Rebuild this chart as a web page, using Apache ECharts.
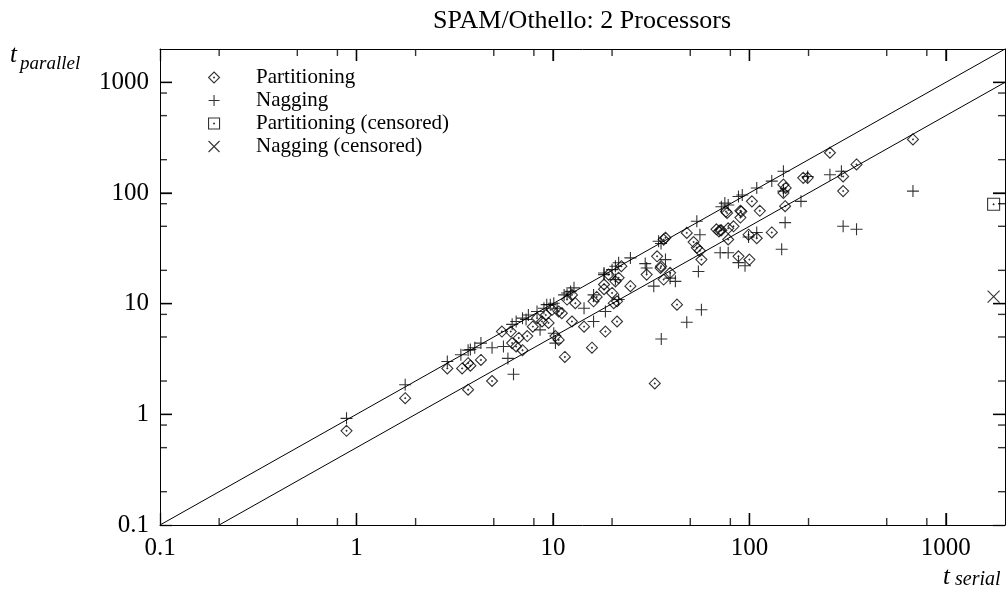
<!DOCTYPE html>
<html>
<head>
<meta charset="utf-8">
<script src="https://cdn.jsdelivr.net/npm/echarts@6/dist/echarts.min.js"></script>
<style>
html,body{margin:0;padding:0;background:#fff;}
#chart{width:1006px;height:589px;}
</style>
</head>
<body>
<div id="chart"></div>
<script>
// ---- data (t_serial, t_parallel) ----
const partitioning = [
  [0.89,0.71],[1.77,1.40],[2.9,2.6],[3.45,2.6],[3.7,2.9],[3.8,2.75],[4.3,3.1],[3.7,1.67],[4.9,2.0],
  [5.5,5.6],[6.1,5.6],[6.2,4.4],[6.5,4.1],[7.0,3.8],[6.7,4.9],[7.4,5.1],[7.9,6.2],[8.3,7.4],[8.8,6.9],
  [9.2,7.9],[9.5,6.7],[9.9,8.8],[10.7,8.5],[10.3,5.1],[10.7,4.7],[11.1,8.2],[11.8,10.9],[12.5,12],
  [13,10.1],[12.5,6.9],[14.4,6.2],[16.1,10.5],[16.7,11.5],[15.8,4.0],[18.2,14.9],[18.5,5.6],[18.2,13.5],
  [19.2,18.3],[20.8,15.9],[21.6,17.1],[22.3,21.8],[20,12.5],[20.4,10.1],[24.8,14.4],[30,18.3],[33.9,26.8],
  [35.3,21],[36.6,16.5],[39.5,19],[36.6,37.9],[37.4,39.4],[48,43.6],[54,32],[42.8,9.8],[11.5,3.3],
  [21.2,6.9],[21.2,10.5],[35.5,21.8],[52,36],[56,30],[57,25],[71,46],[78,38],[88,26.8],[76,68],[91,68],
  [77,66],[103,84],[149,119],[149,100],[152,76],[188,137],[198,137],[68,47],[70,45],[72,46],[78,48],
  [83,50],[90,69],[90,60],[113,69],[99,42],[109,39],[130,44],[100,25],[257,231],[300,141],[351,181],
  [300,104],[680,305],[153,111],[33,1.9]
];
const nagging = [
  [0.89,0.92],[1.77,1.85],[2.9,3.0],[3.4,3.45],[3.7,3.8],[3.8,3.85],[4.0,4.0],[4.3,4.4],[4.9,4.0],
  [5.6,4.1],[5.9,3.2],[6.3,2.3],[6.2,6.5],[6.5,6.9],[7.0,7.4],[7.3,7.2],[7.5,7.9],[8.3,8.5],[8.6,5.8],
  [9.0,9.1],[9.3,9.8],[9.7,9.8],[10.1,10.1],[10.1,5.4],[10.3,4.4],[10.5,9.1],[11.4,12],[11.8,12.5],
  [12.3,12.9],[12.8,13.9],[14.4,9.1],[16.1,6.9],[16.1,12],[18.2,18.3],[18.5,8.5],[18.2,18.9],[20,20.3],
  [20.8,21.8],[21.6,23.4],[20.8,16.5],[21.6,10.9],[24.8,25.9],[30,21],[32.6,14.4],[37.4,25],[39.5,17],
  [42,15.9],[34.5,36.6],[35.5,35],[54,55.6],[57,8.8],[48,6.8],[35.6,4.8],[29.5,23],[56,42],[55,19.5],
  [71,28.8],[78,28.8],[88,23.5],[72,75],[75,81],[78,78],[88,93],[92,96],[109,111],[130,128],[149,157],
  [183,84],[109,44],[99,40],[152,54],[146,31],[95,22],[198,141],[257,146],[294,157],[680,104],[300,50],
  [351,47],[149,104]
];
const partitioningCensored = [[1750,79]];
const naggingCensored = [[1750,11.6]];
// reference lines: t_parallel = t_serial and t_parallel = t_serial / 2
const lineEqual = [[0.1,0.1],[2000,2000]];
const lineHalf = [[0.2,0.1],[2000,1000]];
// axis range and tick values
const axisMin = 0.1, axisMax = 2000;
const majorTicks = [1,10,100,1000];
const minorTicks = [0.2,0.5,0.8,2,5,8,20,50,80,200,500,800];

const FONT = 'Liberation Serif';
const symDiamond = 'path://M5,0L10,5L5,10L0,5Z M5,4.6L5.4,5L5,5.4L4.6,5Z';
const symPlus = 'path://M0,5L10,5M5,0L5,10';
const symSquare = 'path://M0,0L10,0L10,10L0,10Z M5,4.6L5.4,5L5,5.4L4.6,5Z';
const symCross = 'path://M0,0L10,10M10,0L0,10';
const symBar = 'path://M0,0L10,0L10,10L0,10Z';

const fmt = v => {
  const l = Math.log10(v);
  if (Math.abs(l - Math.round(l)) > 1e-6) return '';
  const r = Math.round(l);
  if (r > 3) return '';
  return r < 0 ? '0.1' : String(Math.pow(10, r));
};

function dataAxis(pos, labels) {
  return {
    type:'log', logBase:10, min:axisMin, max:axisMax, gridIndex:0, position:pos,
    axisLine:{show:true, onZero:false, lineStyle:{color:'#000', width:1}},
    axisTick:{show:true, inside:true, length:12, lineStyle:{color:'#000', width:1.3}},
    axisLabel:{show:true, formatter:labels ? fmt : (() => ''), color:'#000', fontFamily:FONT, fontSize:25, margin:11, showMaxLabel:false},
    minorTick:{show:false}, splitLine:{show:false}
  };
}
const symStyle = {color:'rgba(0,0,0,0)', borderColor:'#000', borderWidth:1.1};

// tick marks on all four frame sides, placed through the log axes
function tickSeries(values, len) {
  const base = {type:'scatter', xAxisIndex:0, yAxisIndex:0, symbol:symBar, silent:true, clip:false, z:4,
                itemStyle:{color:'#000'}, emphasis:{disabled:true}, legendHoverLink:false};
  return [
    Object.assign({}, base, {data:values.map(v => [v, axisMin]), symbolSize:[1.4, len], symbolOffset:[0, -len/2]}),
    Object.assign({}, base, {data:values.map(v => [v, axisMax]), symbolSize:[1.4, len], symbolOffset:[0, len/2]}),
    Object.assign({}, base, {data:values.map(v => [axisMin, v]), symbolSize:[len, 1.4], symbolOffset:[len/2, 0]}),
    Object.assign({}, base, {data:values.map(v => [axisMax, v]), symbolSize:[len, 1.4], symbolOffset:[-len/2, 0]})
  ];
}

const chart = echarts.init(document.getElementById('chart'), null, {renderer:'canvas'});
chart.setOption({
  backgroundColor:'#fff',
  animation:false,
  grid:{left:160, right:1, top:49, bottom:64, outerBoundsMode:'none', containLabel:false},
  xAxis:[dataAxis('bottom', true), dataAxis('top', false)],
  yAxis:[dataAxis('left', true), dataAxis('right', false)],
  legend:{
    orient:'vertical', left:203, top:61, itemWidth:74, itemHeight:11, itemGap:0,
    selectedMode:false, symbolKeepAspect:true,
    itemStyle:{borderWidth:1.1},
    textStyle:{fontFamily:FONT, fontSize:21, color:'#000', lineHeight:23},
    data:['Partitioning','Nagging','Partitioning (censored)','Nagging (censored)']
  },
  graphic:[
    {type:'text', x:582, y:21, style:{text:'SPAM/Othello: 2 Processors', font:'26px "Liberation Serif"', fill:'#000', align:'center', verticalAlign:'middle'}},
    {type:'text', x:10, y:55, style:{text:'t', font:'italic 25px "Liberation Serif"', fill:'#000', align:'left', verticalAlign:'middle'}},
    {type:'text', x:20, y:64, style:{text:'parallel', font:'italic 19px "Liberation Serif"', fill:'#000', align:'left', verticalAlign:'middle'}},
    {type:'text', x:943, y:577, style:{text:'t', font:'italic 25px "Liberation Serif"', fill:'#000', align:'left', verticalAlign:'middle'}},
    {type:'text', x:955, y:580, style:{text:'serial', font:'italic 20px "Liberation Serif"', fill:'#000', align:'left', verticalAlign:'middle'}}
  ],
  series:[
    {type:'line', data:lineEqual, xAxisIndex:0, yAxisIndex:0, showSymbol:false, silent:true, z:1, lineStyle:{color:'#000', width:1}},
    {type:'line', data:lineHalf, xAxisIndex:0, yAxisIndex:0, showSymbol:false, silent:true, z:1, lineStyle:{color:'#000', width:1}},
    {name:'Partitioning', type:'scatter', data:partitioning, xAxisIndex:0, yAxisIndex:0, symbol:symDiamond, symbolSize:11, symbolKeepAspect:true, itemStyle:symStyle, z:3, emphasis:{disabled:true}},
    {name:'Nagging', type:'scatter', data:nagging, xAxisIndex:0, yAxisIndex:0, symbol:symPlus, symbolSize:12, symbolKeepAspect:true, itemStyle:symStyle, z:3, emphasis:{disabled:true}},
    {name:'Partitioning (censored)', type:'scatter', data:partitioningCensored, xAxisIndex:0, yAxisIndex:0, symbol:symSquare, symbolSize:12, symbolKeepAspect:true, itemStyle:symStyle, z:3, emphasis:{disabled:true}},
    {name:'Nagging (censored)', type:'scatter', data:naggingCensored, xAxisIndex:0, yAxisIndex:0, symbol:symCross, symbolSize:12, symbolKeepAspect:true, itemStyle:symStyle, z:3, emphasis:{disabled:true}}
  ].concat(tickSeries(majorTicks, 12), tickSeries(minorTicks, 7))
});
</script>
</body>
</html>
